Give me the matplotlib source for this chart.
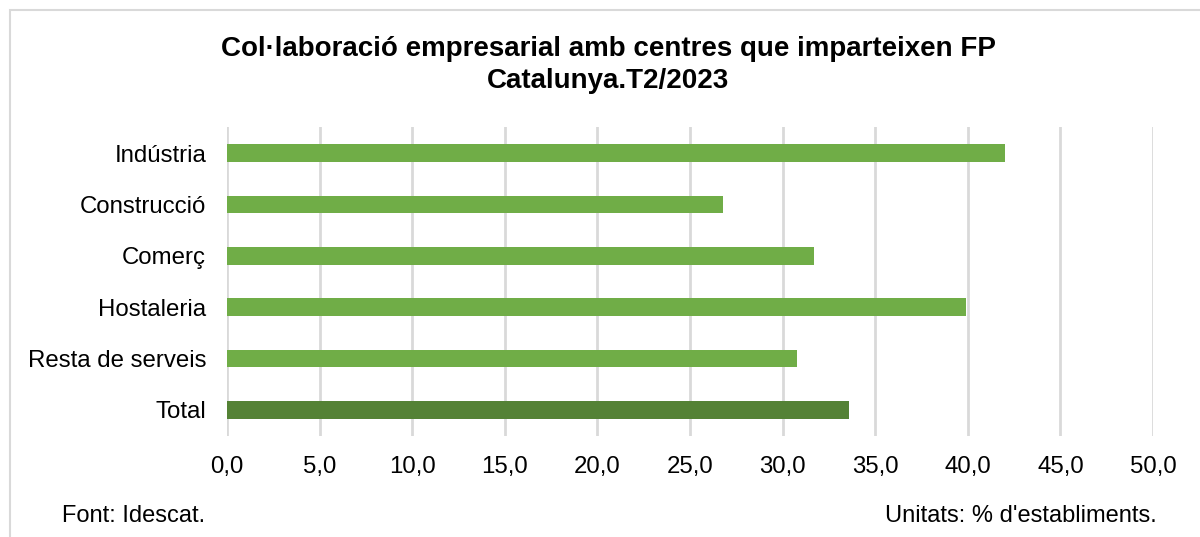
import matplotlib
matplotlib.use("Agg")
import matplotlib.pyplot as plt
from matplotlib.patches import Rectangle

plt.rcParams['font.family'] = ['Liberation Sans', 'DejaVu Sans']

categories = ["Indústria", "Construcció", "Comerç", "Hostaleria", "Resta de serveis", "Total"]
values = [42.0, 26.8, 31.7, 39.9, 30.8, 33.6]
colors = ["#70AD47", "#70AD47", "#70AD47", "#70AD47", "#70AD47", "#548235"]
xticks = [0, 5, 10, 15, 20, 25, 30, 35, 40, 45, 50]
xtick_labels = ["0,0", "5,0", "10,0", "15,0", "20,0", "25,0", "30,0", "35,0", "40,0", "45,0", "50,0"]
title = "Col·laboració empresarial amb centres que imparteixen FP\nCatalunya.T2/2023"

fig = plt.figure(figsize=(12, 5.37), dpi=100)
fig.patches.append(Rectangle((10/1200, -0.1), 1.2, (537-10)/537 + 0.1, transform=fig.transFigure,
                             fill=False, edgecolor="#D9D9D9", linewidth=1.5))

ax = fig.add_axes([227/1200, 101.4/537, 926/1200, 308.2/537])
y = list(range(len(categories)))
ax.barh(y, values, height=0.34, color=colors, zorder=3)
ax.set_ylim(len(categories) - 0.5, -0.5)
ax.set_xlim(0, 50)
ax.set_xticks(xticks)
ax.set_xticklabels(xtick_labels)
ax.set_yticks(y)
ax.set_yticklabels(categories)
ax.grid(axis="x", color="#D9D9D9", linewidth=2, zorder=0)
for s in ax.spines.values():
    s.set_visible(False)
ax.tick_params(axis="both", length=0, labelsize=17.3, colors="#000000")
ax.tick_params(axis="x", pad=15)
ax.tick_params(axis="y", pad=15)

fig.text(0.507, 1 - 65/537, title, ha="center", va="center", fontsize=20,
         fontweight="bold", linespacing=1.32)
fig.text(62/1200, 1 - 516/537, "Font: Idescat.", ha="left", va="center", fontsize=17)
fig.text(1157/1200, 1 - 516/537, "Unitats: % d'establiments.", ha="right", va="center", fontsize=17)

fig.savefig("out.png", dpi=100, facecolor="white")
